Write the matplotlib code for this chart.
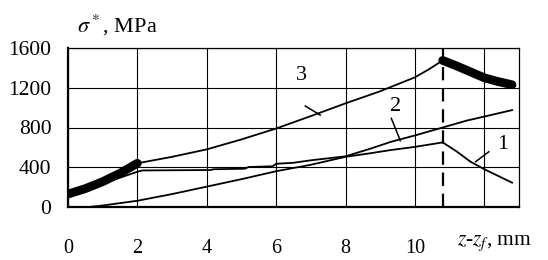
import numpy as np
import matplotlib.pyplot as plt

plt.rcParams['font.family'] = 'Liberation Serif'
plt.rcParams['mathtext.fontset'] = 'stix'

# curve 3: thick start, thin middle, thick end
x3_a = [0, 0.5, 1.0, 1.5, 2.0]
y3_a = [130, 185, 255, 340, 440]
x3_b = [2.0, 3, 4, 5, 6, 7, 8, 9, 9.5, 10, 10.4, 10.8]
y3_b = [440, 505, 580, 680, 790, 915, 1043, 1165, 1235, 1305, 1385, 1475]
x3_c = [10.8, 11.2, 11.6, 12.0, 12.4, 12.8]
y3_c = [1475, 1420, 1360, 1300, 1262, 1230]

# curve 2
x2 = [0, 0.5, 1, 1.5, 2, 2.15, 4.1, 4.2, 5.1, 5.2, 5.9, 6.0, 6.5, 7, 7.5, 8,
      8.7, 9.3, 10, 10.8, 11.5, 12, 12.8]
y2 = [130, 180, 240, 295, 355, 368, 372, 380, 385, 402, 410, 435, 445, 470, 490, 510,
      585, 655, 720, 800, 870, 910, 975]

# curve 1
x1 = [0.6, 1, 2, 3, 4, 5, 6, 7, 8, 8.7, 9.3, 10, 10.8, 11.2, 11.6, 12, 12.8]
y1 = [0, 15, 63, 130, 205, 280, 360, 425, 505, 540, 573, 605, 650, 560, 456, 380, 245]

x_peak = 10.81

xticks = [0, 2, 4, 6, 8, 10, 12]
xticklabels = ['0', '2', '4', '6', '8', '10', '']
yticks = [0, 400, 800, 1200, 1600]

fig = plt.figure(figsize=(5.48, 2.6), dpi=100)
ax = fig.add_axes([68 / 548, 1 - 207 / 260, (519 - 68) / 548, (207 - 48) / 260])

ax.plot(x1, y1, color='black', lw=1.3)
ax.plot(x2, y2, color='black', lw=1.3)
ax.plot(x3_b, y3_b, color='black', lw=1.3)
ax.plot(x3_a, y3_a, color='black', lw=6.3, solid_capstyle='round')
ax.plot(x3_c, y3_c, color='black', lw=6.3, solid_capstyle='round')

ax.axvline(x_peak, color='black', lw=1.6, dashes=(6, 3.5))

# curve labels with leader lines
ax.text(6.74, 1328, '3', fontsize=16, ha='center', va='center')
ax.plot([6.84, 7.27], [1016, 925], color='black', lw=1.1)
ax.text(9.44, 1009, '2', fontsize=16, ha='center', va='center')
ax.plot([9.32, 9.58], [892, 667], color='black', lw=1.1)
ax.text(12.53, 624, '1', fontsize=16, ha='center', va='center')
ax.plot([12.13, 11.75], [556, 456], color='black', lw=1.1)

ax.set_xlim(0, 13)
ax.set_ylim(0, 1600)
ax.set_xticks(xticks)
ax.set_xticklabels(xticklabels)
ax.set_yticks(yticks)
ax.tick_params(length=0)
ax.tick_params(axis='x', pad=23, labelsize=14.5)
ax.tick_params(axis='y', pad=12, labelsize=15.5)
ax.grid(color='black', lw=0.8)
ax.set_axisbelow(True)
for s in ['left', 'bottom']:
    ax.spines[s].set_linewidth(1.6)
for s in ['top', 'right']:
    ax.spines[s].set_linewidth(0.9)

fig.text(77 / 548, 1 - 25 / 260, r'$\sigma^*$, MPa', fontsize=16, va='center', ha='left')
fig.text(457 / 548, 1 - 243 / 260, r'$z$-$z_f$, mm', fontsize=15.5, va='center', ha='left')

fig.savefig('out.png', dpi=100)
